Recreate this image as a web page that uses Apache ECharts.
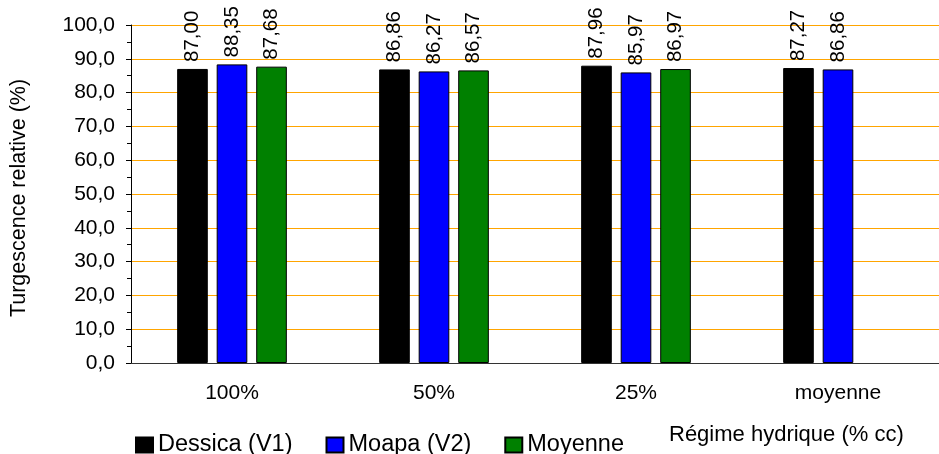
<!DOCTYPE html>
<html><head><meta charset="utf-8">
<script src="https://cdn.jsdelivr.net/npm/echarts@6/dist/echarts.min.js"></script>
<style>html,body{margin:0;padding:0;background:#fff}#c{width:939px;height:454px}</style>
</head><body><div id="c"></div>
<script>
const categories = ['100%', '50%', '25%', 'moyenne'];
const dessica = [87.00, 86.86, 87.96, 87.27];
const moapa = [88.35, 86.27, 85.97, 86.86];
const moyenne = [87.68, 86.57, 86.97, null];
const seriesNames = ['Dessica (V1)', 'Moapa (V2)', 'Moyenne'];
const colors = ['#000000', '#0000FF', '#008000'];
const yTitle = 'Turgescence relative (%)';
const xTitle = 'Régime hydrique (% cc)';
const FONT = '"Liberation Sans", Arial, sans-serif';

const chart = echarts.init(document.getElementById('c'), null, {renderer: 'canvas'});
const fmt2 = p => p.value == null ? '' : p.value.toFixed(2).replace('.', ',');
function mk(name, data, color) {
  return {
    name, type: 'bar', data,
    barGap: '29%', barCategoryGap: '45.7%',
    itemStyle: {color, borderColor: '#000', borderWidth: 1},
    label: {show: true, position: 'top', rotate: 90, align: 'left', verticalAlign: 'middle',
      distance: 7, formatter: fmt2, fontFamily: FONT, fontSize: 20.5, color: '#000'}
  };
}
chart.setOption({
  animation: false,
  textStyle: {fontFamily: FONT},
  grid: {left: 130, width: 817, top: 25, height: 338, containLabel: false},
  legend: {
    left: 130, top: 428, itemWidth: 17, itemHeight: 15, itemGap: 33, icon: 'rect',
    textStyle: {fontFamily: FONT, fontSize: 23.5, color: '#000'},
    data: seriesNames
  },
  xAxis: {
    type: 'category', data: categories,
    axisLine: {lineStyle: {color: '#333', width: 1}},
    axisTick: {show: false},
    axisLabel: {fontFamily: FONT, fontSize: 21, color: '#000', margin: 20}
  },
  yAxis: {
    type: 'value', min: 0, max: 100, interval: 10,
    name: yTitle, nameLocation: 'middle', nameGap: 101, nameRotate: 90,
    nameTextStyle: {fontFamily: FONT, fontSize: 21.5, color: '#000', padding: [0, 8, 0, 0]},
    axisLine: {show: true, lineStyle: {color: '#000', width: 1}},
    axisTick: {show: true, length: 5, lineStyle: {color: '#000'}},
    minorTick: {show: true, splitNumber: 2, length: 4, lineStyle: {color: '#000'}},
    axisLabel: {fontFamily: FONT, fontSize: 21, color: '#000', margin: 16,
      formatter: v => v.toFixed(1).replace('.', ',')},
    splitLine: {show: true, lineStyle: {color: '#FFA500', width: 1}}
  },
  graphic: [{type: 'text', left: 669, top: 424, style: {text: xTitle, font: '22px ' + FONT, fill: '#000'}}],
  series: [mk(seriesNames[0], dessica, colors[0]), mk(seriesNames[1], moapa, colors[1]), mk(seriesNames[2], moyenne, colors[2])]
});
</script></body></html>
